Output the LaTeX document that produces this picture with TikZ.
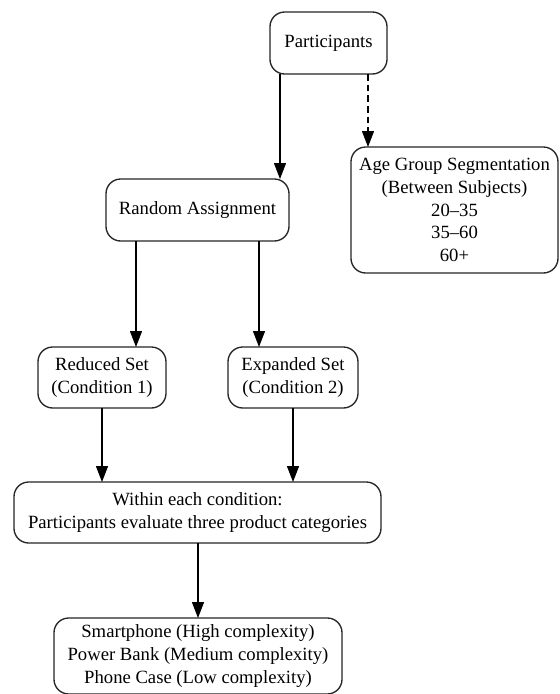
\documentclass[tikz,border=0pt]{standalone}
\usepackage{fontspec}
\setmainfont{Liberation Serif}
\usetikzlibrary{arrows.meta}
\begin{document}
\begin{tikzpicture}[x=0.75pt,y=-0.75pt,
  box/.style={draw=black!85,line width=1pt,rounded corners=11pt,inner sep=0pt,outer sep=0pt,align=center,
    font=\fontsize{14pt}{17pt}\selectfont},
  arr/.style={draw=black,line width=1pt,-{Triangle[length=12pt,width=9pt]}},
  darr/.style={arr,dash pattern=on 5pt off 3pt}]
\useasboundingbox[fill=white] (0,0) rectangle (560,694);
\node[box,minimum width=87.75pt,minimum height=46.5pt] (p) at (328.5,43) {Participants};
\node[box,minimum width=155.25pt,minimum height=94.5pt] (age) at (454.5,210) {Age Group Segmentation\\(Between Subjects)\\20–35\\35–60\\60+};
\node[box,minimum width=137.25pt,minimum height=46.5pt] (r) at (197.5,210) {Random Assignment};
\node[box,minimum width=96pt,minimum height=45.75pt] (red) at (102,377.5) {Reduced Set\\(Condition 1)};
\node[box,minimum width=97.5pt,minimum height=45.75pt] (exp) at (293,377.5) {Expanded Set\\(Condition 2)};
\node[box,minimum width=275.25pt,minimum height=45.75pt] (w) at (197.5,512.5) {Within each condition:\\Participants evaluate three product categories};
\node[box,minimum width=216pt,minimum height=57pt] (b) at (198,656) {Smartphone (High complexity)\\Power Bank (Medium complexity)\\Phone Case (Low complexity)};
\coordinate (c1) at (280,0);
\coordinate (c2) at (368,0);
\coordinate (c3) at (136,0);
\coordinate (c4) at (259,0);
\coordinate (c5) at (198,0);
\draw[arr] (p.south -| c1) -- (r.north -| c1);
\draw[darr] (p.south -| c2) -- (age.north -| c2);
\draw[arr] (r.south -| c3) -- (red.north -| c3);
\draw[arr] (r.south -| c4) -- (exp.north -| c4);
\draw[arr] (red.south) -- (w.north -| red.south);
\draw[arr] (exp.south) -- (w.north -| exp.south);
\draw[arr] (w.south -| c5) -- (b.north -| c5);
\end{tikzpicture}
\end{document}
